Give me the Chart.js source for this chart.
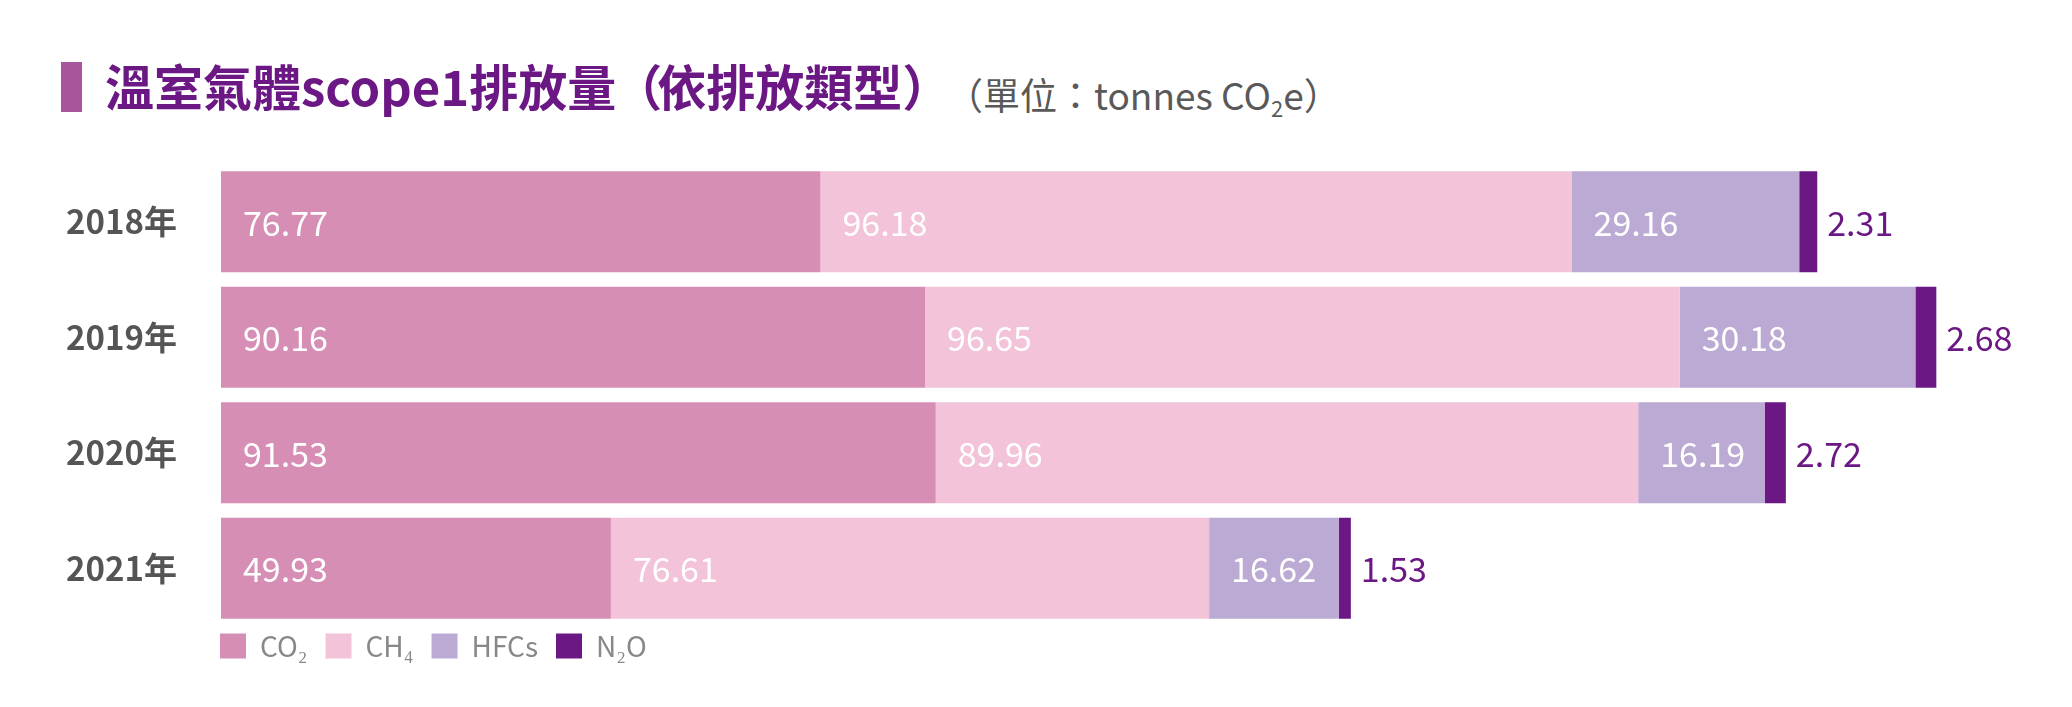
<!DOCTYPE html>
<html>
<head>
<meta charset="utf-8">
<script src="https://cdn.jsdelivr.net/npm/chart.js@4.4.1/dist/chart.umd.min.js"></script>
<style>
  body { margin: 0; background: #fff; }
  #wrap { position: relative; width: 2072px; height: 707px; font-family: "Noto Sans CJK TC", "Noto Sans", sans-serif; }
  #mark { position: absolute; left: 61px; top: 62px; width: 21px; height: 50px; background: #a8559c; }
  #title { position: absolute; left: 105px; top: 60px; font-size: 49px; line-height: 49px; font-weight: 700; color: #6b1784; white-space: nowrap; }
  #title .paren { margin-left: -3px; margin-right: -5px; }
  #unit { position: absolute; left: 946px; top: 76px; font-size: 37px; line-height: 37px; color: #595959; white-space: nowrap; }
  #unit sub { font-size: 22px; vertical-align: -7px; line-height: 0; }
  canvas { position: absolute; left: 0; top: 0; }
</style>
</head>
<body>
<div id="wrap">
  <div id="mark"></div>
  <div id="title">溫室氣體scope1排放量<span class="paren">（</span>依排放類型）</div>
  <div id="unit">（單位：tonnes CO<sub>2</sub>e）</div>
  <canvas id="myChart" width="2072" height="707"></canvas>
</div>
<script>
const years = ["2018年", "2019年", "2020年", "2021年"];
const gasNames = ["CO₂", "CH₄", "HFCs", "N₂O"];
const co2 = [76.77, 90.16, 91.53, 49.93];
const ch4 = [96.18, 96.65, 89.96, 76.61];
const hfcs = [29.16, 30.18, 16.19, 16.62];
const n2o = [2.31, 2.68, 2.72, 1.53];
const gasColors = ["#d78eb5", "#f2c3d9", "#bbaad3", "#6b1784"];

// value labels: white inside the bar, purple after the thin N2O bar
const barLabels = {
  id: "barLabels",
  afterDatasetsDraw(chart) {
    const ctx = chart.ctx;
    ctx.save();
    ctx.font = "34px 'Noto Sans CJK TC'";
    ctx.textBaseline = "middle";
    ctx.textAlign = "left";
    chart.data.datasets.forEach((ds, i) => {
      const meta = chart.getDatasetMeta(i);
      meta.data.forEach((bar, j) => {
        const text = ds.data[j].toFixed(2);
        if (i === 3) {
          ctx.fillStyle = "#6b1784";
          ctx.fillText(text, bar.x + 10, bar.y + 1);
        } else {
          ctx.fillStyle = "#ffffff";
          ctx.fillText(text, bar.base + 22, bar.y + 1);
        }
      });
    });
    ctx.restore();
  },
};

// move the legend so its first box lines up with the bars
const legendShift = {
  id: "legendShift",
  afterLayout(chart) {
    const lg = chart.legend;
    const pad = lg.options.labels.padding;
    const w = lg.right - lg.left;
    lg.left = chart.chartArea.left - pad - 1;
    lg.right = lg.left + w;
    lg.top = chart.chartArea.bottom - 12;
  },
};

function renderChart() {
  const ctx = document.getElementById("myChart");
  const series = [co2, ch4, hfcs, n2o];

  new Chart(ctx, {
    type: "bar",
    data: {
      labels: years,
      datasets: series.map((values, i) => ({
        label: gasNames[i],
        data: values,
        backgroundColor: gasColors[i],
        borderWidth: 0,
        barPercentage: 1,
        categoryPercentage: 0.873,
      })),
    },
    options: {
      indexAxis: "y",
      responsive: false,
      animation: false,
      devicePixelRatio: 1,
      layout: {
        padding: { top: 164, left: 66, right: 55, bottom: 25 },
      },
      scales: {
        x: {
          stacked: true,
          display: false,
          min: 0,
          max: 230,
        },
        y: {
          stacked: true,
          grid: { display: false },
          border: { display: false },
          ticks: {
            crossAlign: "far",
            color: "#555555",
            font: { family: "'Noto Sans CJK TC'", size: 33, weight: "bold" },
          },
          afterFit(scale) {
            scale.width = 155;
          },
        },
      },
      plugins: {
        title: { display: false },
        tooltip: { enabled: false },
        legend: {
          display: true,
          position: "bottom",
          align: "start",
          fullSize: false,
          labels: {
            boxWidth: 26,
            boxHeight: 25,
            padding: 18,
            color: "#888888",
            font: { family: "'Noto Sans CJK TC'", size: 28 },
          },
        },
      },
    },
    plugins: [barLabels, legendShift],
  });
}

renderChart();
</script>
</body>
</html>
